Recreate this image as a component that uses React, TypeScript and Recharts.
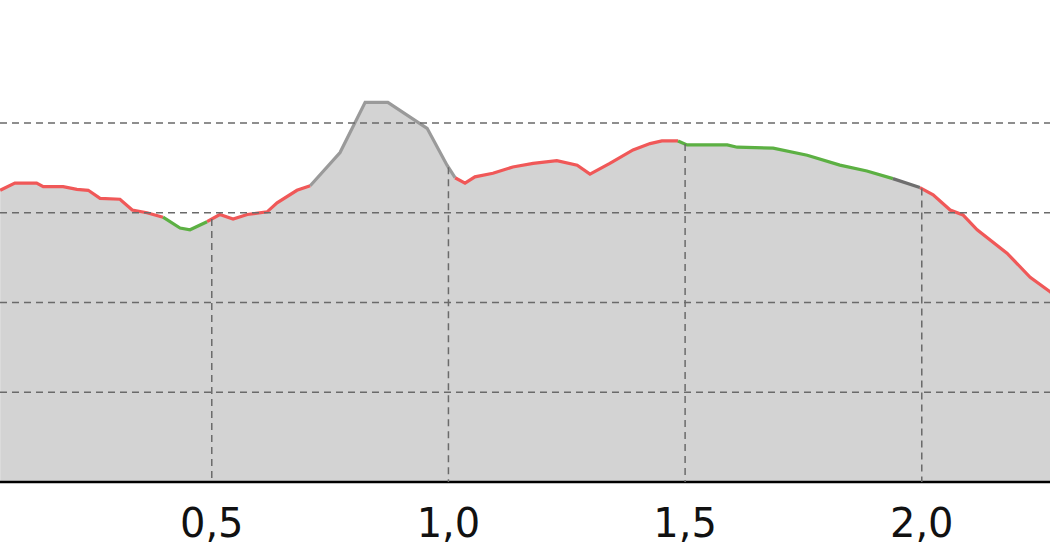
import { ComposedChart, Area, Line, XAxis, YAxis, CartesianGrid, ReferenceLine } from "recharts"

// distance along the route (km)
const distance = [
  0.053, 0.084, 0.13, 0.144, 0.186, 0.215, 0.239, 0.264, 0.306, 0.332, 0.363, 0.397, 0.433, 0.454, 0.49,
  0.517, 0.545, 0.575, 0.617, 0.638, 0.68, 0.708, 0.771, 0.824, 0.872, 0.955, 0.997, 1.014, 1.035, 1.056,
  1.094, 1.136, 1.179, 1.229, 1.272, 1.299, 1.341, 1.39, 1.426, 1.451, 1.485, 1.504, 1.589, 1.61, 1.686,
  1.758, 1.827, 1.884, 1.939, 1.996, 2.024, 2.06, 2.087, 2.117, 2.18, 2.229, 2.271, 2.292,
]

// elevation (m)
const elevation = [
  32.5, 33.3, 33.3, 32.9, 32.9, 32.6, 32.5, 31.6, 31.5, 30.3, 30.0, 29.5, 28.3, 28.1, 29.0,
  29.8, 29.3, 29.8, 30.1, 31.1, 32.5, 33.0, 36.7, 42.3, 42.3, 39.4, 35.3, 33.9, 33.3, 34.0,
  34.4, 35.1, 35.5, 35.8, 35.3, 34.3, 35.5, 37.0, 37.7, 38.0, 38.0, 37.55, 37.55, 37.3, 37.2,
  36.4, 35.3, 34.65, 33.8, 32.8, 32.0, 30.3, 29.75, 28.1, 25.5, 22.8, 21.2, 20.3,
]

// surface class of the segment starting at each point
const surface = [
  "r", "r", "r", "r", "r", "r", "r", "r", "r", "r", "r", "g", "g", "g", "r",
  "r", "r", "r", "r", "r", "r", "k", "k", "k", "k", "k", "k", "r", "r", "r",
  "r", "r", "r", "r", "r", "r", "r", "r", "r", "r", "g", "g", "g", "g", "g",
  "g", "g", "g", "d", "r", "r", "r", "r", "r", "r", "r", "r", "r",
]

const xTicks = [0.5, 1, 1.5, 2]
const yTicks = [10, 20, 30, 40]

const classes = ["r", "g", "k", "d"]
const colors: Record<string, string> = { r: "#f05858", g: "#5cb043", k: "#9a9a9a", d: "#6e6e6e" }

const data = distance.map((d, i) => {
  const row: Record<string, number | null> = { dist: d, elev: elevation[i], r: null, g: null, k: null, d: null }
  row[surface[i]] = elevation[i]
  if (i > 0) row[surface[i - 1]] = elevation[i]
  return row
})

// elevation under a given distance, from the profile
function elevAt(x: number) {
  for (let i = 1; i < distance.length; i++) {
    if (distance[i] >= x) {
      const t = (x - distance[i - 1]) / (distance[i] - distance[i - 1])
      return elevation[i - 1] + t * (elevation[i] - elevation[i - 1])
    }
  }
  return elevation[elevation.length - 1]
}

const gridStroke = "#6a6a6a"

export default function App() {
  return (
    <div style={{ position: "absolute", left: 0, top: 0, background: "#fff" }}>
      <ComposedChart width={1050} height={560} data={data} margin={{ top: 0, right: 0, bottom: 0, left: 0 }}>
        <XAxis
          dataKey="dist"
          type="number"
          domain={[0.0526, 2.2709]}
          allowDataOverflow
          ticks={xTicks}
          tickFormatter={(v: number) => v.toFixed(1).replace(".", ",")}
          height={78}
          tickLine={false}
          tickSize={0}
          tickMargin={27}
          axisLine={{ stroke: "#000", strokeWidth: 2.5 }}
          tick={{ fill: "#111", fontSize: 40, fontFamily: "DejaVu Sans" }}
        />
        <YAxis hide type="number" domain={[0, 53.7]} ticks={yTicks} allowDataOverflow />
        <Area
          type="linear"
          dataKey="elev"
          stroke="none"
          fill="#d3d3d3"
          fillOpacity={1}
          dot={false}
          activeDot={false}
          isAnimationActive={false}
        />
        {classes.map((c) => (
          <Line
            key={c}
            type="linear"
            dataKey={c}
            stroke={colors[c]}
            strokeWidth={3.2}
            dot={false}
            activeDot={false}
            connectNulls={false}
            isAnimationActive={false}
          />
        ))}
        <CartesianGrid
          vertical={false}
          horizontalValues={yTicks}
          stroke={gridStroke}
          strokeDasharray="7 5"
          strokeWidth={1.5}
          zIndex={2000}
        />
        {xTicks.map((t) => (
          <ReferenceLine
            key={t}
            segment={[
              { x: t, y: elevAt(t) },
              { x: t, y: 0 },
            ]}
            stroke={gridStroke}
            strokeDasharray="7 5"
            strokeWidth={1.5}
            zIndex={2000}
          />
        ))}
      </ComposedChart>
    </div>
  )
}
